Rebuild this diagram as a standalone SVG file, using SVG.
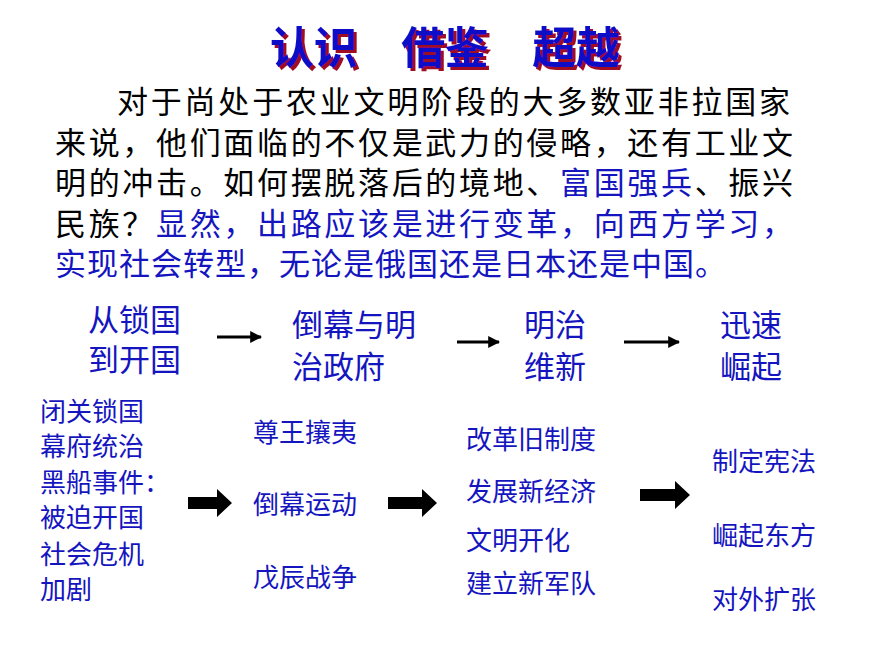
<svg xmlns="http://www.w3.org/2000/svg" width="870" height="653" viewBox="0 0 870 653">
<style>
text{font-family:"Liberation Sans","Noto Sans CJK SC",sans-serif}
.t{font-size:44px;font-weight:bold;fill:#1010c8}
.b{font-size:31px;fill:#000}
.bl{fill:#1515c0}
.h{font-size:31px;fill:#1515c0}
.s{font-size:26px;fill:#1515c0}
</style>
<defs>
<marker id="ah" viewBox="0 0 10 10" refX="9" refY="5" markerWidth="4" markerHeight="4" orient="auto"><path d="M0,0L10,5L0,10z" fill="#000"/></marker>
<filter id="sh" x="-5%" y="-20%" width="110%" height="140%">
<feFlood flood-color="#a01020"/><feComposite in2="SourceAlpha" operator="in"/><feOffset dx="3" dy="3" result="s"/>
<feMerge><feMergeNode in="s"/><feMergeNode in="SourceGraphic"/></feMerge>
</filter>
</defs>
<rect width="870" height="653" fill="#fff"/>
<g id="title" filter="url(#sh)">
<text class="t" x="270" y="64" textLength="350">认识　借鉴　超越</text>
</g>
<g id="body">
<text class="b" x="117" y="113" textLength="673">对于尚处于农业文明阶段的大多数亚非拉国家</text>
<text class="b" x="55" y="154" textLength="738">来说，他们面临的不仅是武力的侵略，还有工业文</text>
<text class="b" x="55" y="194" textLength="738">明的冲击。如何摆脱落后的境地、<tspan class="bl">富国强兵</tspan>、振兴</text>
<text class="b" x="55" y="235" textLength="738">民族？<tspan class="bl">显然，出路应该是进行变革，向西方学习，</tspan></text>
<text class="b bl" x="55" y="275" textLength="671">实现社会转型，无论是俄国还是日本还是中国。</text>
</g>
<g id="n1"><text class="h" x="88" y="331">从锁国</text><text class="h" x="88" y="371">到开国</text></g>
<g id="n2"><text class="h" x="292" y="336">倒幕与明</text><text class="h" x="292" y="378">治政府</text></g>
<g id="n3"><text class="h" x="524" y="336">明治</text><text class="h" x="524" y="378">维新</text></g>
<g id="n4"><text class="h" x="720" y="336">迅速</text><text class="h" x="720" y="378">崛起</text></g>
<g id="c1"><text class="s" x="40" y="421">闭关锁国</text><text class="s" x="40" y="456">幕府统治</text><text class="s" x="40" y="492">黑船事件：</text><text class="s" x="40" y="527">被迫开国</text><text class="s" x="40" y="564">社会危机</text><text class="s" x="40" y="599">加剧</text></g>
<g id="c2"><text class="s" x="253" y="442">尊王攘夷</text><text class="s" x="253" y="514">倒幕运动</text><text class="s" x="253" y="587">戊辰战争</text></g>
<g id="c3"><text class="s" x="466" y="449">改革旧制度</text><text class="s" x="466" y="501">发展新经济</text><text class="s" x="466" y="550">文明开化</text><text class="s" x="466" y="593">建立新军队</text></g>
<g id="c4"><text class="s" x="712" y="471">制定宪法</text><text class="s" x="712" y="545">崛起东方</text><text class="s" x="712" y="609">对外扩张</text></g>
<g id="connectors" fill="#000">
<g stroke="#000" stroke-width="3" marker-end="url(#ah)">
<line x1="217" y1="337" x2="261" y2="337"/>
<line x1="457" y1="342" x2="499" y2="342"/>
<line x1="624" y1="342" x2="679" y2="342"/>
</g>
<path d="M188,497h29v-8l15,14l-15,14v-8h-29z"/>
<path d="M388,497h34v-8l15,14l-15,14v-8h-34z"/>
<path d="M640,489h35v-8l15,14l-15,14v-8h-35z"/>
</g>
</svg>
